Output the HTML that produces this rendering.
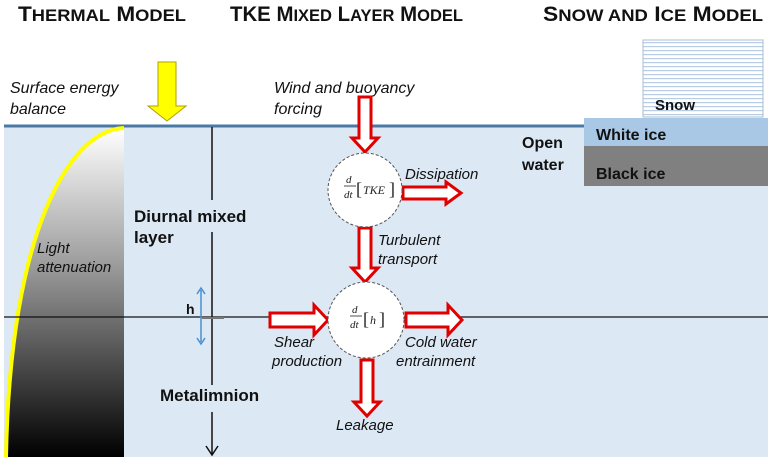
<!DOCTYPE html>
<html><head><meta charset="utf-8"><style>
html,body{margin:0;padding:0;background:#fff;}
svg{display:block;font-family:"Liberation Sans",Arial,sans-serif;}
</style></head><body>
<svg width="768" height="460" viewBox="0 0 768 460" xmlns="http://www.w3.org/2000/svg">
<defs>
<linearGradient id="g" x1="0" y1="0" x2="0" y2="1">
<stop offset="0" stop-color="#ffffff"/><stop offset="0.4" stop-color="#a0a0a0"/><stop offset="1" stop-color="#000"/>
</linearGradient>
<pattern id="sn" width="4" height="4" patternUnits="userSpaceOnUse">
<rect width="4" height="4" fill="#fff"/><rect y="2" width="4" height="1.2" fill="#b8cde4"/>
</pattern>
</defs>
<rect x="4" y="127" width="764" height="330" fill="#dce8f4"/>
<line x1="4" y1="126" x2="590" y2="126" stroke="#4a79a5" stroke-width="3"/>
<path d="M124,128 C70,130 10,230 6,457 L124,457 Z" fill="url(#g)"/>
<path d="M124,128 C70,130 10,230 6,457" fill="none" stroke="#ffff00" stroke-width="4"/>
<text x="18" y="21" font-size="21" font-weight="bold" fill="#111" textLength="168" lengthAdjust="spacingAndGlyphs">T<tspan font-size="17">HERMAL</tspan> M<tspan font-size="17">ODEL</tspan></text>
<text x="230" y="21" font-size="21" font-weight="bold" fill="#111" textLength="233" lengthAdjust="spacingAndGlyphs">TKE M<tspan font-size="17">IXED</tspan> L<tspan font-size="17">AYER</tspan> M<tspan font-size="17">ODEL</tspan></text>
<text x="543" y="21" font-size="21" font-weight="bold" fill="#111" textLength="220" lengthAdjust="spacingAndGlyphs">S<tspan font-size="17">NOW AND</tspan> I<tspan font-size="17">CE</tspan> M<tspan font-size="17">ODEL</tspan></text>
<rect x="643" y="40" width="120" height="77" fill="url(#sn)" stroke="#a8bcd4" stroke-width="1"/>
<text x="655" y="110" font-size="15" font-weight="bold" fill="#111">Snow</text>
<rect x="584" y="118" width="184" height="28" fill="#a9c8e6"/>
<rect x="584" y="146" width="184" height="40" fill="#808080"/>
<text x="596" y="140" font-size="16" font-weight="bold" fill="#111">White ice</text>
<text x="596" y="179" font-size="16" font-weight="bold" fill="#111">Black ice</text>
<text x="522" y="148" font-size="16" font-weight="bold" fill="#111">Open</text>
<text x="522" y="170" font-size="16" font-weight="bold" fill="#111">water</text>
<path d="M158,62 L176,62 L176,106 L186,106 L167,121 L148,106 L158,106 Z" fill="#ffff00" stroke="#b0a000" stroke-width="1"/>
<g font-size="16" font-style="italic" fill="#111">
<text x="10" y="93">Surface energy</text>
<text x="10" y="114">balance</text>
<text x="274" y="93">Wind and buoyancy</text>
<text x="274" y="114">forcing</text>
</g>
<line x1="212" y1="127" x2="212" y2="200" stroke="#111" stroke-width="1.5"/>
<line x1="212" y1="232" x2="212" y2="385" stroke="#111" stroke-width="1.5"/>
<line x1="212" y1="412" x2="212" y2="454" stroke="#111" stroke-width="1.5"/>
<path d="M206,446 L212,455 L218,446" fill="none" stroke="#111" stroke-width="1.5"/>
<line x1="4" y1="317" x2="768" y2="317" stroke="#111" stroke-width="1.2"/>
<line x1="202" y1="318" x2="224" y2="318" stroke="#777" stroke-width="2"/>
<line x1="201" y1="290" x2="201" y2="342" stroke="#4a90d0" stroke-width="1.5"/>
<path d="M197,294 L201,288 L205,294 M197,338 L201,344 L205,338" fill="none" stroke="#4a90d0" stroke-width="1.5"/>
<text x="186" y="314" font-size="14" font-weight="bold" fill="#111">h</text>
<text x="134" y="222" font-size="17" font-weight="bold" fill="#111">Diurnal mixed</text>
<text x="134" y="243" font-size="17" font-weight="bold" fill="#111">layer</text>
<text x="160" y="401" font-size="17" font-weight="bold" fill="#111">Metalimnion</text>
<text x="37" y="253" font-size="15" font-style="italic" fill="#111">Light</text>
<text x="37" y="272" font-size="15" font-style="italic" fill="#111">attenuation</text>
<g fill="#fff" stroke="#e00000" stroke-width="3" stroke-linejoin="miter">
<path d="M359,97 L371,97 L371,138 L378,138 L365,152 L352,138 L359,138 Z"/>
<path d="M403,187 L446,187 L446,182 L461,193 L446,204 L446,199 L403,199 Z"/>
<path d="M359,228 L371,228 L371,268 L378,268 L365,282 L352,268 L359,268 Z"/>
<path d="M270,313 L314,313 L314,305 L328,320 L314,335 L314,327 L270,327 Z"/>
<path d="M406,313 L448,313 L448,305 L462,320 L448,335 L448,327 L406,327 Z"/>
<path d="M361,360 L373,360 L373,402 L380,402 L367,416 L354,402 L361,402 Z"/>
</g>
<circle cx="365" cy="190" r="37" fill="#fff" stroke="#555" stroke-width="1" stroke-dasharray="3,2"/>
<circle cx="366" cy="320" r="38" fill="#fff" stroke="#555" stroke-width="1" stroke-dasharray="3,2"/>
<g font-family="Liberation Serif,serif" font-style="italic" fill="#222">
<text x="346" y="183" font-size="11">d</text>
<line x1="344" y1="186" x2="356" y2="186" stroke="#222" stroke-width="0.8"/>
<text x="344" y="198" font-size="11">dt</text>
<text x="356" y="195" font-size="18" font-style="normal">[</text>
<text x="363" y="194" font-size="12">TKE</text>
<text x="389" y="195" font-size="18" font-style="normal">]</text>
<text x="352" y="313" font-size="11">d</text>
<line x1="350" y1="316" x2="362" y2="316" stroke="#222" stroke-width="0.8"/>
<text x="350" y="328" font-size="11">dt</text>
<text x="363" y="325" font-size="18" font-style="normal">[</text>
<text x="370" y="324" font-size="12">h</text>
<text x="379" y="325" font-size="18" font-style="normal">]</text>
</g>
<g font-size="15" font-style="italic" fill="#111">
<text x="405" y="179">Dissipation</text>
<text x="378" y="245">Turbulent</text>
<text x="378" y="264">transport</text>
<text x="274" y="347">Shear</text>
<text x="272" y="366">production</text>
<text x="405" y="347">Cold water</text>
<text x="396" y="366">entrainment</text>
<text x="336" y="430">Leakage</text>
</g>
</svg>
</body></html>
